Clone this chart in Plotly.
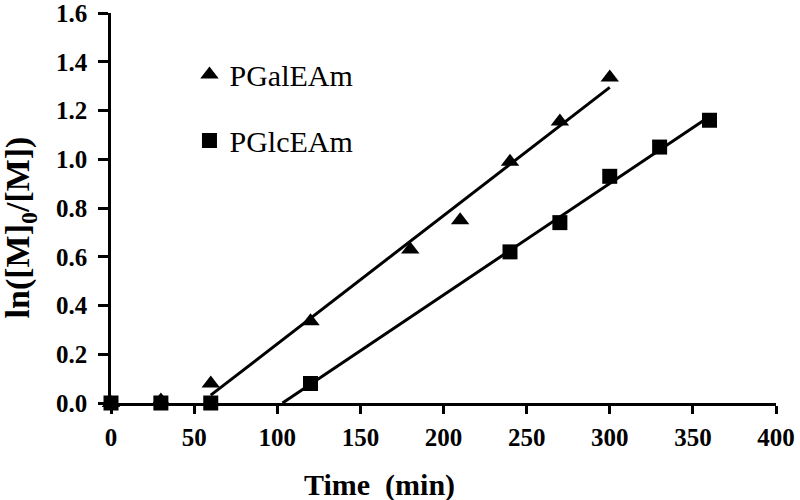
import numpy as np
import plotly.graph_objects as go

# kinetic data
time_gal = [0, 30, 60, 120, 180, 210, 240, 270, 300]
lnm_gal = [0.0, 0.01, 0.08, 0.335, 0.63, 0.75, 0.99, 1.155, 1.335]

time_glc = [0, 30, 60, 120, 240, 270, 300, 330, 360]
lnm_glc = [0.0, 0.0, 0.0, 0.08, 0.62, 0.74, 0.93, 1.05, 1.16]

# points used for the linear fits
gal_fit_from = 60
glc_fit_from = 120

x_ticks = [0, 50, 100, 150, 200, 250, 300, 350, 400]
y_ticks = [0.0, 0.2, 0.4, 0.6, 0.8, 1.0, 1.2, 1.4, 1.6]

SERIF = "Liberation Serif, Times New Roman, serif"


def fit_line(t, y, start, extend_to_zero=False):
    t = np.array(t, dtype=float)
    y = np.array(y, dtype=float)
    m = t >= start
    slope, icpt = np.polyfit(t[m], y[m], 1)
    x0 = -icpt / slope if extend_to_zero else t[m][0]
    xs = np.array([x0, t[m][-1]])
    return xs, slope * xs + icpt


gx, gy = fit_line(time_gal, lnm_gal, gal_fit_from)
cx, cy = fit_line(time_glc, lnm_glc, glc_fit_from, extend_to_zero=True)

fig = go.Figure()

fig.add_trace(go.Scatter(x=gx, y=gy, mode="lines", line=dict(color="black", width=3),
                         showlegend=False, hoverinfo="skip"))
fig.add_trace(go.Scatter(x=cx, y=cy, mode="lines", line=dict(color="black", width=3),
                         showlegend=False, hoverinfo="skip"))

fig.add_trace(go.Scatter(x=time_gal, y=lnm_gal, mode="markers", name="PGalEAm",
                         legendgroup="a",
                         marker=dict(symbol="triangle-up", size=16, color="black")))
fig.add_trace(go.Scatter(x=time_glc, y=lnm_glc, mode="markers", name="PGlcEAm",
                         legendgroup="b",
                         marker=dict(symbol="square", size=15, color="black")))

fig.update_traces(cliponaxis=False)


def axis_style():
    return dict(
        showgrid=False, zeroline=False, showline=True, linecolor="black", linewidth=2.5,
        ticks="outside", tickcolor="black", tickwidth=2.5, automargin=False,
        ticklabeloverflow="allow",
        tickfont=dict(family=SERIF, size=25, color="black", weight="bold"),
    )


fig.update_xaxes(range=[0, 400], tickvals=x_ticks, ticklen=8, ticklabelstandoff=2,
                 **axis_style())
fig.update_yaxes(range=[0, 1.6], tickvals=y_ticks, tickformat=".1f", ticklen=10,
                 ticklabelstandoff=6, **axis_style())

fig.add_annotation(text="Time  (min)", xref="paper", yref="paper", x=0.404, y=-0.21,
                   xanchor="center", yanchor="middle", showarrow=False,
                   font=dict(family=SERIF, size=30, color="black", weight="bold"))
fig.add_annotation(text="ln([M]<sub>0</sub>/[M])", xref="paper", yref="paper",
                   x=-0.137, y=0.45, xanchor="center", yanchor="middle",
                   textangle=-90, showarrow=False,
                   font=dict(family=SERIF, size=34, color="black", weight="bold"))

fig.update_layout(
    width=800, height=500,
    margin=dict(l=111, r=24, t=13, b=97),
    plot_bgcolor="white", paper_bgcolor="white",
    legend=dict(x=0.118, y=0.909, xanchor="left", yanchor="top",
                font=dict(family=SERIF, size=30, color="black"),
                tracegroupgap=24, bgcolor="rgba(0,0,0,0)"),
)

# drop the default 8px page margin so the figure fills the window
fig.write_html("out.html", config={"displayModeBar": False},
               post_script="document.body.style.margin='0';")
